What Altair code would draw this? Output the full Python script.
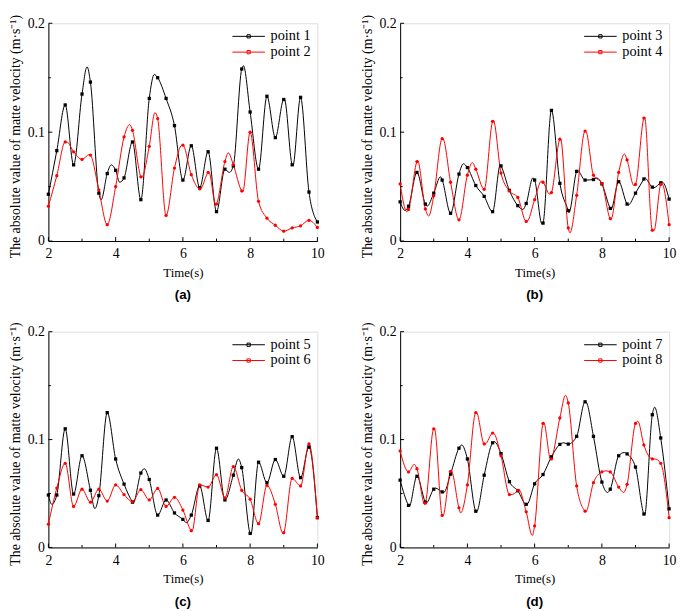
import altair as alt
import pandas as pd

TIMES = [2.0, 2.25, 2.5, 2.75, 3.0, 3.25, 3.5, 3.75, 4.0, 4.25, 4.5, 4.75, 5.0,
         5.25, 5.5, 5.75, 6.0, 6.25, 6.5, 6.75, 7.0, 7.25, 7.5, 7.75, 8.0, 8.25,
         8.5, 8.75, 9.0, 9.25, 9.5, 9.75, 10.0]

# ---- panel (a) ----
P1 = [0.043, 0.083, 0.125, 0.070, 0.135, 0.146, 0.044, 0.062, 0.065, 0.058, 0.091,
      0.038, 0.131, 0.150, 0.131, 0.106, 0.056, 0.0875, 0.049, 0.082, 0.027, 0.066,
      0.069, 0.158, 0.1185, 0.066, 0.133, 0.095, 0.130, 0.070, 0.132, 0.045, 0.0175]
P1_EXT_T = [3.15, 3.57, 3.87, 4.12, 5.15, 7.38, 7.8, 9.02, 9.27]
P1_EXT_V = [0.160, 0.038, 0.070, 0.054, 0.153, 0.063, 0.161, 0.130, 0.069]

P2 = [0.032, 0.060, 0.091, 0.082, 0.075, 0.079, 0.047, 0.015, 0.050, 0.0956, 0.1017,
      0.059, 0.087, 0.1125, 0.0235, 0.067, 0.088, 0.061, 0.048, 0.063, 0.034, 0.073,
      0.070, 0.046, 0.100, 0.0365, 0.021, 0.0145, 0.009, 0.012, 0.014, 0.019, 0.0125]
P2_EXT_T = [2.55, 3.22, 4.42, 4.77, 5.17, 5.97, 6.52, 6.77, 6.98, 7.35, 7.78]
P2_EXT_V = [0.091, 0.0795, 0.107, 0.058, 0.118, 0.088, 0.048, 0.0635, 0.033, 0.081, 0.045]

# ---- panel (b) ----
P3 = [0.036, 0.032, 0.063, 0.034, 0.044, 0.056, 0.0255, 0.0615, 0.0675, 0.051, 0.041,
      0.027, 0.069, 0.0465, 0.0325, 0.0345, 0.056, 0.0165, 0.120, 0.053, 0.028, 0.064,
      0.056, 0.0565, 0.0525, 0.030, 0.0545, 0.034, 0.044, 0.057, 0.0495, 0.0535, 0.0385]
P3_EXT_T = [2.15, 2.8, 3.2, 3.88, 4.98, 5.65, 5.95, 6.22, 7.02, 7.27, 7.85, 8.27, 8.78, 9.27, 9.55, 9.8]
P3_EXT_V = [0.028, 0.032, 0.059, 0.071, 0.070, 0.029, 0.058, 0.0155, 0.026, 0.065, 0.058, 0.029, 0.033, 0.058, 0.049, 0.054]

P4 = [0.0525, 0.029, 0.073, 0.0295, 0.0415, 0.094, 0.054, 0.0195, 0.0605, 0.066, 0.0475,
      0.110, 0.0625, 0.046, 0.040, 0.018, 0.038, 0.054, 0.0445, 0.0935, 0.012, 0.042,
      0.101, 0.0605, 0.053, 0.0205, 0.063, 0.0745, 0.052, 0.113, 0.010, 0.052, 0.015]
P4_EXT_T = [2.2, 2.52, 2.85, 3.27, 4.15, 4.77, 5.77, 6.2, 6.45, 6.77, 7.05, 7.52, 8.27, 8.67, 8.95, 9.27, 9.55, 9.78]
P4_EXT_V = [0.027, 0.074, 0.023, 0.094, 0.072, 0.111, 0.018, 0.055, 0.043, 0.094, 0.0075, 0.101, 0.020, 0.080, 0.051, 0.114, 0.0095, 0.053]

# ---- panel (c) ----
P5 = [0.0486, 0.0486, 0.110, 0.0495, 0.085, 0.053, 0.048, 0.125, 0.082, 0.0587, 0.042,
      0.069, 0.063, 0.030, 0.044, 0.032, 0.026, 0.030, 0.057, 0.025, 0.092, 0.044,
      0.067, 0.074, 0.013, 0.079, 0.060, 0.0815, 0.066, 0.1027, 0.0647, 0.093, 0.0277]
P5_EXT_T = [2.1, 3.38, 4.52, 4.85, 6.1, 7.65, 8.02]
P5_EXT_V = [0.040, 0.036, 0.041, 0.073, 0.023, 0.082, 0.012]

P6 = [0.0216, 0.055, 0.078, 0.038, 0.054, 0.042, 0.054, 0.043, 0.058, 0.049, 0.0425,
      0.0535, 0.044, 0.0547, 0.038, 0.0465, 0.0347, 0.0155, 0.058, 0.056, 0.0675, 0.046,
      0.075, 0.053, 0.0447, 0.022, 0.0575, 0.040, 0.0137, 0.064, 0.057, 0.096, 0.0274]
P6_EXT_T = [6.27, 8.98]
P6_EXT_V = [0.015, 0.013]

# ---- panel (d) ----
P7 = [0.0624, 0.039, 0.066, 0.042, 0.054, 0.0515, 0.068, 0.092, 0.082, 0.0336, 0.067,
      0.097, 0.087, 0.061, 0.0525, 0.040, 0.059, 0.0676, 0.084, 0.0955, 0.0958, 0.103,
      0.135, 0.103, 0.0606, 0.054, 0.085, 0.0867, 0.0745, 0.031, 0.123, 0.1015, 0.0358]
P7_EXT_T = [2.27, 2.77, 3.05, 3.3, 3.83, 4.27, 4.8, 5.77, 6.87, 7.52, 8.17, 8.67, 9.27, 9.57]
P7_EXT_V = [0.038, 0.041, 0.055, 0.051, 0.095, 0.033, 0.098, 0.040, 0.097, 0.135, 0.051, 0.088, 0.030, 0.130]

P8 = [0.0894, 0.070, 0.073, 0.041, 0.110, 0.0297, 0.0706, 0.0367, 0.058, 0.125, 0.096,
      0.106, 0.085, 0.049, 0.053, 0.033, 0.020, 0.115, 0.082, 0.120, 0.134, 0.057,
      0.0336, 0.060, 0.070, 0.070, 0.056, 0.0585, 0.115, 0.095, 0.082, 0.078, 0.0276]
P8_EXT_T = [2.42, 2.73, 3.02, 3.27, 3.52, 3.8, 4.27, 4.53, 4.77, 5.3, 5.52, 5.93, 6.27, 6.48, 6.92, 7.52, 8.12, 8.65, 9.07, 9.58]
P8_EXT_V = [0.077, 0.040, 0.110, 0.029, 0.071, 0.032, 0.125, 0.096, 0.106, 0.049, 0.054, 0.011, 0.116, 0.081, 0.141, 0.033, 0.071, 0.051, 0.117, 0.082]

X_MAJOR = [2, 4, 6, 8, 10]
X_MINOR = [3, 5, 7, 9]
Y_MAJOR = [0, 0.1, 0.2]
Y_MINOR = [0.05, 0.15]

SERIF = "'Liberation Serif', 'Times New Roman', Times, serif"
SANS = "'Liberation Sans', Arial, Helvetica, sans-serif"
W = 273
YTITLE = "The absolute value of matte velocity (m·s⁻¹)"


def panel(names, vals_pair, ext_pair, label, H):
    line_rows, pt_rows = [], []
    for name, vals, (et, ev) in zip(names, vals_pair, ext_pair):
        for t, v in zip(TIMES, vals):
            line_rows.append({"t": t, "v": v, "s": name})
            pt_rows.append({"t": t, "v": v, "s": name})
        for t, v in zip(et, ev):
            if t not in TIMES:
                line_rows.append({"t": t, "v": v, "s": name})
    line_df = pd.DataFrame(line_rows).sort_values(["s", "t"])
    pt_df = pd.DataFrame(pt_rows)

    xs = alt.Scale(domain=[2, 10], nice=False, zero=False)
    ys = alt.Scale(domain=[0, 0.2], nice=False)
    color = alt.Color(
        "s:N",
        scale=alt.Scale(domain=names, range=["black", "red"]),
        legend=alt.Legend(
            title=None, orient="top-right", offset=6, padding=0,
            labelFont=SERIF, labelFontSize=14.5, labelColor="black",
            symbolType="M-3,0H3M-0.3,-0.3H0.3V0.3H-0.3Z", symbolSize=121,
            symbolStrokeWidth=1, labelOffset=15, rowPadding=1,
        ),
    )
    xaxis = alt.Axis(values=X_MAJOR, ticks=False, grid=False, title="Time(s)",
                     labelFont=SERIF, labelFontSize=14, labelColor="black",
                     labelPadding=6, titleFont=SERIF, titleFontSize=13,
                     titleFontWeight="normal", titleColor="black", titlePadding=6,
                     domainColor="black", format="d", labelFlush=False)
    yaxis = alt.Axis(values=Y_MAJOR, ticks=False, grid=False, title=YTITLE,
                     labelFont=SERIF, labelFontSize=14, labelColor="black",
                     labelPadding=4,
                     labelExpr="datum.value == 0 ? '0' : format(datum.value, '.1f')",
                     titleFont=SERIF, titleFontSize=14, titleFontWeight="normal",
                     titleColor="black", titlePadding=4.5, titleY=H / 2 + 4,
                     domainColor="black", labelFlush=False)

    line = alt.Chart(line_df).mark_line(interpolate="monotone", strokeWidth=1).encode(
        x=alt.X("t:Q", scale=xs, axis=xaxis),
        y=alt.Y("v:Q", scale=ys, axis=yaxis),
        color=color,
    )
    pts = alt.Chart(pt_df).mark_point(filled=True, size=11, opacity=1).encode(
        x=alt.X("t:Q", scale=xs),
        y=alt.Y("v:Q", scale=ys),
        color=alt.Color("s:N", scale=alt.Scale(domain=names, range=["black", "red"]), legend=None),
        shape=alt.Shape("s:N", scale=alt.Scale(domain=names, range=["square", "circle"]), legend=None),
    )
    xmaj = alt.Chart(pd.DataFrame({"t": X_MAJOR})).mark_rule(color="black", strokeWidth=1).encode(
        x=alt.X("t:Q", scale=xs), y=alt.value(H), y2=alt.value(H - 4))
    xmin = alt.Chart(pd.DataFrame({"t": X_MINOR})).mark_rule(color="black", strokeWidth=1).encode(
        x=alt.X("t:Q", scale=xs), y=alt.value(H), y2=alt.value(H - 2.5))
    ymaj = alt.Chart(pd.DataFrame({"v": Y_MAJOR})).mark_rule(color="black", strokeWidth=1).encode(
        y=alt.Y("v:Q", scale=ys), x=alt.value(0), x2=alt.value(4))
    ymin = alt.Chart(pd.DataFrame({"v": Y_MINOR})).mark_rule(color="black", strokeWidth=1).encode(
        y=alt.Y("v:Q", scale=ys), x=alt.value(0), x2=alt.value(2.5))

    return alt.layer(line, pts, xmaj, xmin, ymaj, ymin).properties(
        width=W, height=H,
        title=alt.TitleParams(label, orient="bottom", font=SANS, fontWeight="bold",
                              fontSize=13.5, color="black", offset=9, anchor="middle"),
    ).resolve_scale(color="independent", shape="independent")


pa = panel(["point 1", "point 2"], [P1, P2], [(P1_EXT_T, P1_EXT_V), (P2_EXT_T, P2_EXT_V)], "(a)", 221)
pb = panel(["point 3", "point 4"], [P3, P4], [(P3_EXT_T, P3_EXT_V), (P4_EXT_T, P4_EXT_V)], "(b)", 221)
pc = panel(["point 5", "point 6"], [P5, P6], [(P5_EXT_T, P5_EXT_V), (P6_EXT_T, P6_EXT_V)], "(c)", 219)
pd_ = panel(["point 7", "point 8"], [P7, P8], [(P7_EXT_T, P7_EXT_V), (P8_EXT_T, P8_EXT_V)], "(d)", 219)

row1 = alt.hconcat(pa, pb, spacing=35).resolve_scale(color="independent", shape="independent")
row2 = alt.hconcat(pc, pd_, spacing=35).resolve_scale(color="independent", shape="independent")
chart = alt.vconcat(row1, row2, spacing=19).resolve_scale(
    color="independent", shape="independent"
).properties(
    padding={"left": 0, "top": 1, "right": 0, "bottom": 0}
).configure_view(stroke="black", strokeWidth=1).configure(background="white")

chart.save("out.html", embed_options={"renderer": "svg", "actions": False})
